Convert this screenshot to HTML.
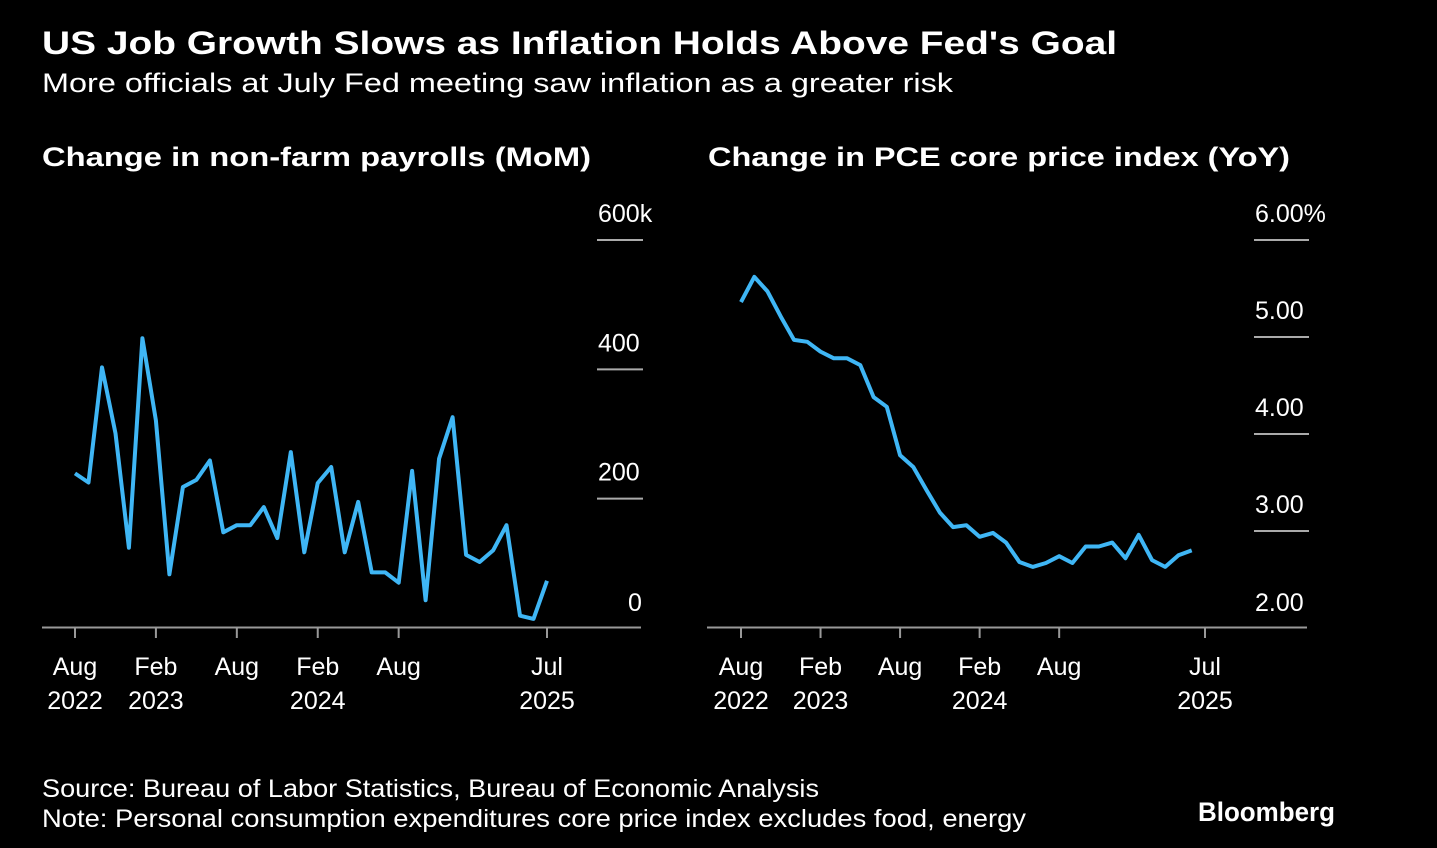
<!DOCTYPE html>
<html><head><meta charset="utf-8"><style>
html,body{margin:0;padding:0;background:#000;}
svg{display:block;font-family:"Liberation Sans",sans-serif;}
</style></head><body>
<svg id="c" width="1437" height="848" viewBox="0 0 1437 848">
<rect width="1437" height="848" fill="#000"/>
<text x="42" y="54" fill="#fff" font-size="32" font-weight="bold" textLength="1075" lengthAdjust="spacingAndGlyphs">US Job Growth Slows as Inflation Holds Above Fed's Goal</text>
<text x="42" y="92" fill="#fff" font-size="27" textLength="911" lengthAdjust="spacingAndGlyphs">More officials at July Fed meeting saw inflation as a greater risk</text>
<text x="42" y="166" fill="#fff" font-size="27" font-weight="bold" textLength="549" lengthAdjust="spacingAndGlyphs">Change in non-farm payrolls (MoM)</text>
<text x="708" y="166" fill="#fff" font-size="27" font-weight="bold" textLength="582" lengthAdjust="spacingAndGlyphs">Change in PCE core price index (YoY)</text>
<g id="left"></g>
<g id="right"></g>
<text x="42" y="797" fill="#fff" font-size="25" textLength="777" lengthAdjust="spacingAndGlyphs">Source: Bureau of Labor Statistics, Bureau of Economic Analysis</text>
<text x="42" y="827" fill="#fff" font-size="25" textLength="984" lengthAdjust="spacingAndGlyphs">Note: Personal consumption expenditures core price index excludes food, energy</text>
<text x="1198" y="821" fill="#fff" font-size="27" font-weight="bold" textLength="137" lengthAdjust="spacingAndGlyphs">Bloomberg</text>
</svg>
<script>
const payrolls = [239,225,403,301,124,448,321,83,218,229,259,148,159,159,187,139,272,117,224,249,117,195,86,86,70,243,43,262,326,113,102,120,159,19,14,73];
const payrollTicks = [0,200,400,600];
const payrollTickLabels = ["0","200","400","600k"];
const pce = [5.36,5.62,5.47,5.21,4.97,4.95,4.85,4.78,4.78,4.71,4.38,4.28,3.78,3.66,3.42,3.19,3.04,3.06,2.94,2.98,2.88,2.68,2.63,2.67,2.74,2.67,2.84,2.84,2.88,2.72,2.96,2.70,2.63,2.75,2.80];
const pceTicks = [2,3,4,5,6];
const pceTickLabels = ["2.00","3.00","4.00","5.00","6.00%"];
const xTickMonths = [0,6,12,18,24,35];
const xTickTop = ["Aug","Feb","Aug","Feb","Aug","Jul"];
const xTickBottom = ["2022","2023","","2024","","2025"];
const NS="http://www.w3.org/2000/svg";
function mk(p,tag,attrs){const e=document.createElementNS(NS,tag);for(const k in attrs)e.setAttribute(k,attrs[k]);p.appendChild(e);return e;}
function panel(g,cfg){
  const xs=m=>cfg.x0+m*(cfg.x1-cfg.x0)/35;
  const ys=v=>cfg.yB-(v-cfg.vMin)*(cfg.yB-cfg.yT)/(cfg.vMax-cfg.vMin);
  const ax=mk(g,'line',{x1:cfg.ax0,x2:cfg.ax1,y1:627.5,y2:627.5,stroke:'#999','stroke-width':2});
  
  
  cfg.ticks.forEach((v,i)=>{
    const y=ys(v);
    if(i>0){const gl=mk(g,'line',{x1:cfg.gx0,x2:cfg.gx1,y1:y,y2:y,stroke:'#aaa','stroke-width':2});
      
      }
    const t=mk(g,'text',{x:cfg.lx,y:y-18,fill:'#fff','font-size':25});
    t.textContent=cfg.labels[i];
    
    
    if(i===0){t.setAttribute('x',cfg.zeroX);t.setAttribute('y',y-17);}
  });
  xTickMonths.forEach((m,i)=>{
    const x=xs(m);
    const tk=mk(g,'line',{x1:x,x2:x,y1:627,y2:638,stroke:'#999','stroke-width':2});
    
    
    const a=mk(g,'text',{x:x,y:675,fill:'#fff','font-size':25,'text-anchor':'middle'});
    a.textContent=xTickTop[i];
    
    
    if(xTickBottom[i]){const b=mk(g,'text',{x:x,y:709,fill:'#fff','font-size':25,'text-anchor':'middle'});
      b.textContent=xTickBottom[i];
      
      }
  });
  const pts=cfg.data.map((v,i)=>xs(i).toFixed(1)+','+ys(v).toFixed(1)).join(' ');
  const pl=mk(g,'polyline',{points:pts,fill:'none',stroke:'#3fb6f5','stroke-width':4,'stroke-linejoin':'round'});
  
  
}
panel(document.getElementById('left'),{x0:75,x1:547,yB:628,yT:240,vMin:0,vMax:600,ax0:42,ax1:641,gx0:597,gx1:643,lx:598,zeroX:628,ticks:payrollTicks,labels:payrollTickLabels,data:payrolls,name:'payrolls-line'});
panel(document.getElementById('right'),{x0:741,x1:1205,yB:628,yT:240,vMin:2,vMax:6,ax0:707,ax1:1307,gx0:1254,gx1:1309,lx:1255,zeroX:1255,ticks:pceTicks,labels:pceTickLabels,data:pce,name:'pce-line'});
</script>
</body></html>
